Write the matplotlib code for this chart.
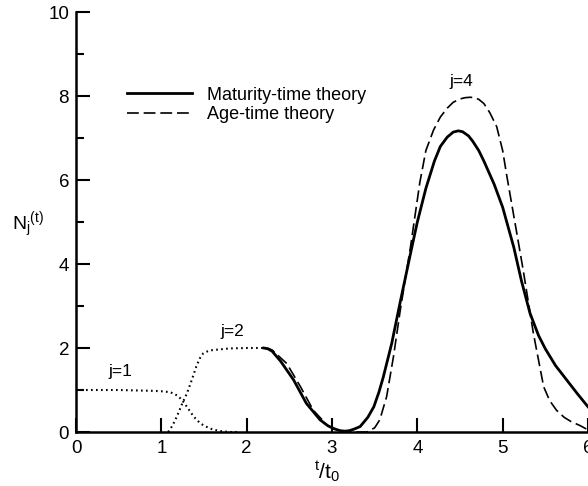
import numpy as np
import matplotlib
matplotlib.use("Agg")
import matplotlib.pyplot as plt

plt.rcParams['font.family'] = ['Liberation Sans', 'DejaVu Sans']
plt.rcParams['mathtext.fontset'] = 'custom'
plt.rcParams['mathtext.rm'] = 'Liberation Sans'
plt.rcParams['mathtext.it'] = 'Liberation Sans'
plt.rcParams['lines.scale_dashes'] = False

# j=1 and start of j=2 (dotted)
x_j1 = [0.0, 0.5, 0.9, 1.0, 1.1, 1.15, 1.2, 1.25, 1.3, 1.35, 1.4, 1.45, 1.5, 1.6, 1.7, 1.8, 1.9]
y_j1 = [1.0, 1.0, 0.98, 0.97, 0.95, 0.91, 0.85, 0.74, 0.6, 0.45, 0.32, 0.22, 0.15, 0.06, 0.02, 0.0, 0.0]

x_j2 = [1.08, 1.13, 1.18, 1.25, 1.3, 1.35, 1.41, 1.45, 1.49, 1.55, 1.6, 1.7, 1.8, 2.0, 2.2]
y_j2 = [0.0, 0.15, 0.36, 0.7, 0.92, 1.2, 1.56, 1.75, 1.87, 1.93, 1.95, 1.97, 1.99, 2.0, 2.0]

# maturity-time theory (solid)
x_mat = [2.2, 2.25, 2.3, 2.4, 2.55, 2.7, 2.86, 2.95, 3.0, 3.05, 3.1, 3.15, 3.2, 3.26, 3.33,
         3.42, 3.49, 3.55, 3.6, 3.7, 3.8, 3.92, 4.0, 4.1, 4.2, 4.27, 4.35, 4.42, 4.48, 4.53,
         4.6, 4.65, 4.72, 4.78, 4.9, 5.0, 5.13, 5.22, 5.32, 5.42, 5.5, 5.62, 5.75, 5.88, 6.0]
y_mat = [2.0, 1.98, 1.92, 1.68, 1.24, 0.68, 0.29, 0.15, 0.1, 0.06, 0.03, 0.02, 0.03, 0.07, 0.13,
         0.35, 0.6, 0.95, 1.3, 2.11, 3.1, 4.25, 5.0, 5.8, 6.45, 6.8, 7.02, 7.14, 7.17, 7.15,
         7.05, 6.92, 6.7, 6.45, 5.9, 5.35, 4.4, 3.6, 2.83, 2.3, 1.98, 1.58, 1.24, 0.9, 0.6]

# age-time theory (dashed)
x_age = [2.2, 2.25, 2.3, 2.47, 2.63, 2.78, 2.94, 3.05, 3.2, 3.41, 3.5, 3.56, 3.64, 3.72, 3.8,
         3.92, 4.03, 4.1, 4.19, 4.27, 4.35, 4.42, 4.5, 4.56, 4.62, 4.67, 4.72, 4.78, 4.85,
         4.93, 5.0, 5.05, 5.16, 5.24, 5.36, 5.48, 5.55, 5.63, 5.72, 5.8, 5.91, 6.0]
y_age = [2.0, 1.99, 1.95, 1.63, 1.08, 0.52, 0.17, 0.04, 0.0, 0.0, 0.1, 0.29, 0.84, 1.79, 2.9,
         4.41, 5.95, 6.7, 7.19, 7.5, 7.71, 7.85, 7.93, 7.96, 7.97, 7.96, 7.92, 7.82, 7.6,
         7.27, 6.7, 6.08, 4.8, 3.86, 2.35, 1.08, 0.75, 0.52, 0.35, 0.25, 0.15, 0.05]

x_ticks = [0, 1, 2, 3, 4, 5, 6]
y_ticks = [0, 2, 4, 6, 8, 10]

fig = plt.figure(figsize=(5.88, 4.86), dpi=100)
ax = fig.add_axes([76/588, 54/486, 512/588, 420/486])

dots = (0, (1.2, 2.4))
ax.plot(x_j1, y_j1, color='black', lw=1.5, linestyle=dots)
ax.plot(x_j2, y_j2, color='black', lw=1.5, linestyle=dots)
ax.plot(x_mat, y_mat, color='black', lw=2.0, label='Maturity-time theory')
ax.plot(x_age, y_age, color='black', lw=1.2, dashes=(8.5, 3.5), label='Age-time theory')

ax.set_xlim(0, 6)
ax.set_ylim(0, 10)
ax.set_xticks(x_ticks)
ax.set_yticks(y_ticks)
ax.set_yticks([1, 3, 5, 7, 9], minor=True)
for s in ['top', 'right']:
    ax.spines[s].set_visible(False)
for s in ['left', 'bottom']:
    ax.spines[s].set_linewidth(1.8)
ax.tick_params(which='major', direction='in', length=10, width=1.5, labelsize=13.5, pad=5)
ax.tick_params(which='minor', direction='in', length=5.5, width=1.5)
ax.tick_params(axis='x', labelsize=13.5, pad=6)

ax.text(0.52, 1.43, 'j=1', fontsize=12.5, ha='center', va='center')
ax.text(1.83, 2.39, 'j=2', fontsize=12.5, ha='center', va='center')
ax.text(4.52, 8.34, 'j=4', fontsize=12.5, ha='center', va='center')

fig.text(28/588, 1 - 225/486, r'N$_\mathregular{j}$$^\mathregular{(t)}$', fontsize=14,
         ha='center', va='center')
fig.text(327/588, 1 - 472/486, r'$^\mathregular{t}$/$\mathregular{t_0}$', fontsize=15,
         ha='center', va='center')

ax.legend(loc='upper left', bbox_to_anchor=(0.1, 0.822), frameon=False, fontsize=13,
          handlelength=3.6, handletextpad=0.8, labelspacing=0.12,
          borderpad=0, borderaxespad=0)

fig.savefig('out.png', dpi=100)
